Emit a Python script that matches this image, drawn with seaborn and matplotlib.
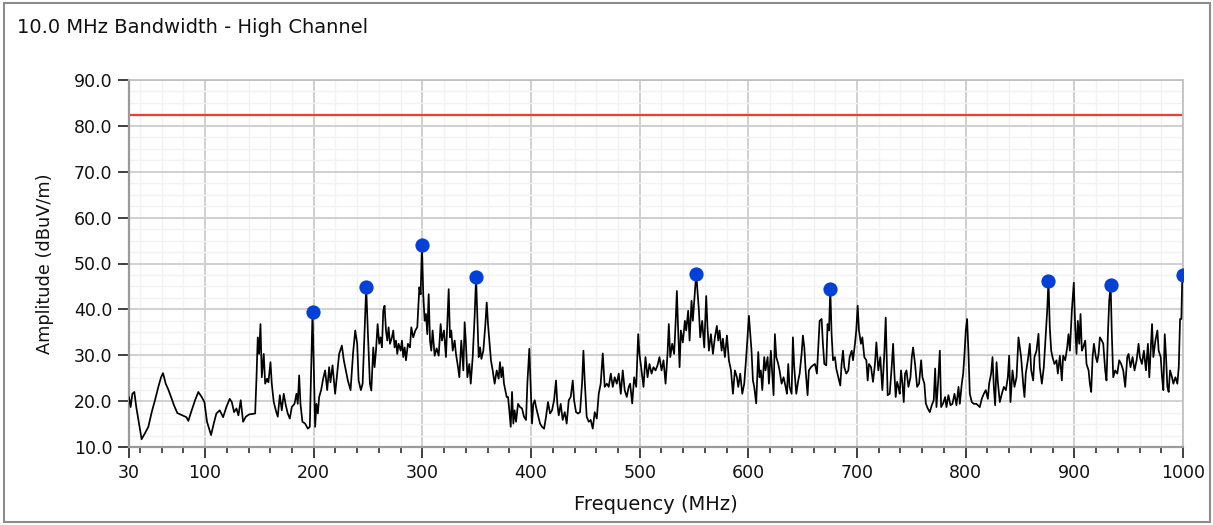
import matplotlib
matplotlib.use("Agg")
import matplotlib.pyplot as plt
import seaborn as sns
import pandas as pd
from matplotlib.ticker import FixedLocator
from matplotlib.patches import Rectangle

# ---------------- data ----------------
title_text = "10.0 MHz Bandwidth - High Channel"
x_label = "Frequency (MHz)"
y_label = "Amplitude (dBuV/m)"

x_ticks = [30, 100, 200, 300, 400, 500, 600, 700, 800, 900, 1000]
x_tick_labels = ["30", "100", "200", "300", "400", "500", "600", "700", "800", "900", "1000"]
y_ticks = [10, 20, 30, 40, 50, 60, 70, 80, 90]
y_tick_labels = ["10.0", "20.0", "30.0", "40.0", "50.0", "60.0", "70.0", "80.0", "90.0"]

limit_db = 82.4

freq_mhz = [
    30, 31.5, 33.1, 34.9, 36.7, 39.2, 41.6, 44.7, 47.8, 50.9,
    53.9, 57.0, 59.5, 61.3, 63.8, 66.2, 68.7, 71.4, 74.5, 79.1,
    82.8, 84.6, 87.7, 90.8, 93.8, 96.9, 99.4, 101.8, 105.5, 108.0,
    110.4, 113.5, 116.6, 119.6, 122.7, 124.6, 126.7, 128.9, 130.7, 132.8,
    135.0, 137.5, 140.5, 146.1, 147.3, 148.5, 149.7, 151.0, 152.2, 154.0,
    155.3, 157.1, 158.3, 160.2, 161.4, 163.2, 165.1, 166.9, 168.8, 170.6,
    172.4, 174.3, 176.1, 178.0, 179.8, 182.3, 184.1, 185.3, 186.6, 187.8,
    189.6, 192.1, 194.6, 196.4, 197.6, 198.9, 200.1, 201.3, 202.5, 203.8,
    205.0, 206.8, 208.7, 210.5, 212.4, 214.2, 215.4, 217.3, 219.7, 221.6,
    223.4, 225.9, 227.7, 229.6, 231.4, 233.9, 236.3, 238.2, 240.0, 241.3,
    243.4, 245.0, 246.8, 248.3, 249.9, 251.7, 253.0, 254.8, 256.0, 257.3,
    258.8, 260.3, 261.5, 262.8, 264.0, 265.2, 266.5, 267.7, 268.9, 270.2,
    272.0, 273.2, 274.4, 275.7, 276.9, 278.1, 280.0, 281.2, 282.4, 283.7,
    284.9, 286.7, 288.6, 289.8, 291.6, 293.5, 295.3, 297.2, 298.4, 299.6,
    300.8, 302.1, 303.3, 304.5, 305.8, 307.0, 308.2, 309.4, 311.3, 313.1,
    315.0, 316.8, 318.0, 319.9, 321.7, 323.0, 324.2, 325.4, 326.6, 327.9,
    329.7, 330.9, 332.8, 334.0, 335.8, 337.7, 338.9, 340.1, 341.4, 343.2,
    344.5, 346.3, 348.1, 349.4, 350.6, 351.8, 353.1, 354.3, 356.1, 358.0,
    359.2, 360.4, 363.1, 364.7, 366.5, 368.4, 370.2, 371.4, 372.7, 373.9,
    375.1, 376.3, 377.6, 378.8, 380.0, 381.3, 382.5, 383.7, 384.9, 386.2,
    388.0, 389.9, 391.7, 393.5, 395.4, 396.6, 398.4, 399.7, 400.9, 402.1,
    403.4, 404.6, 406.4, 408.3, 410.1, 412.0, 413.8, 415.6, 417.5, 419.3,
    421.2, 423.0, 424.2, 425.5, 427.3, 429.1, 431.0, 432.8, 434.7, 436.5,
    438.4, 439.6, 441.4, 443.3, 445.1, 447.0, 448.2, 449.4, 451.2, 453.1,
    454.9, 456.8, 458.6, 460.5, 462.3, 464.1, 466.0, 467.8, 469.7, 471.5,
    473.4, 475.2, 477.0, 478.9, 480.7, 482.6, 484.4, 486.2, 488.1, 489.9,
    491.2, 493.1, 494.9, 496.8, 498.6, 499.8, 501.7, 503.5, 505.3, 507.2,
    509.0, 510.9, 512.7, 514.6, 516.4, 518.2, 520.1, 521.9, 523.8, 525.6,
    526.8, 528.1, 529.9, 531.7, 533.0, 534.2, 535.4, 536.7, 537.9, 539.7,
    541.6, 542.8, 544.6, 545.9, 547.7, 548.9, 550.8, 552.0, 553.2, 554.5,
    555.7, 557.5, 559.4, 561.2, 562.4, 563.7, 565.5, 567.4, 569.2, 571.0,
    572.3, 573.5, 575.4, 576.6, 578.4, 580.3, 582.1, 584.0, 585.8, 587.6,
    589.5, 590.7, 592.5, 594.4, 596.2, 598.1, 600.5, 602.9, 604.2, 605.4,
    607.2, 609.1, 610.3, 611.5, 612.8, 614.6, 615.8, 617.7, 618.9, 620.7,
    622.0, 623.2, 624.4, 625.7, 627.5, 628.7, 630.6, 632.4, 634.3, 635.5,
    636.7, 637.9, 639.8, 641.0, 642.2, 644.1, 645.9, 647.2, 649.0, 650.2,
    651.5, 652.7, 654.5, 655.7, 657.6, 659.4, 661.3, 663.1, 664.3, 665.6,
    667.4, 668.6, 669.9, 671.7, 672.9, 674.2, 675.4, 676.6, 677.9, 679.7,
    680.9, 682.8, 684.6, 685.8, 687.1, 688.3, 690.1, 692.0, 693.2, 695.1,
    696.3, 698.1, 699.3, 700.6, 701.8, 703.6, 704.9, 706.7, 708.6, 709.8,
    711.0, 712.9, 714.7, 716.5, 717.8, 719.6, 721.4, 723.3, 725.1, 726.4,
    728.2, 730.1, 731.9, 733.2, 734.4, 735.6, 736.9, 738.1, 739.3, 740.5,
    741.8, 743.0, 744.2, 745.5, 747.3, 749.2, 750.4, 751.6, 753.4, 755.3,
    757.1, 759.0, 760.2, 762.0, 763.3, 765.1, 767.0, 768.8, 770.6, 771.9,
    773.1, 774.9, 776.2, 777.4, 779.2, 781.1, 782.3, 784.1, 786.0, 787.8,
    789.7, 791.5, 793.4, 794.6, 796.4, 797.7, 798.9, 800.1, 801.3, 802.6,
    803.8, 805.6, 807.5, 809.9, 813.0, 814.8, 816.7, 818.5, 820.4, 821.6,
    823.4, 824.7, 825.9, 827.1, 828.4, 829.6, 831.4, 833.3, 835.1, 837.0,
    838.8, 840.0, 841.2, 843.1, 844.9, 846.8, 848.6, 851.0, 852.9, 854.1,
    855.3, 857.2, 859.0, 860.3, 862.1, 863.3, 865.2, 867.0, 868.2, 870.1,
    871.9, 873.8, 875.0, 876.2, 877.4, 878.7, 879.9, 881.7, 883.6, 884.8,
    886.7, 888.5, 889.7, 891.6, 893.4, 894.6, 895.9, 897.7, 899.5, 900.8,
    902.0, 903.2, 904.5, 905.7, 906.9, 908.1, 910.0, 911.2, 913.1, 914.3,
    915.5, 916.8, 918.0, 919.8, 921.0, 922.3, 923.5, 925.3, 926.6, 928.4,
    929.6, 930.9, 932.1, 933.4, 934.5, 935.8, 937.6, 939.5, 941.3, 943.1,
    945.0, 946.8, 948.7, 949.9, 951.7, 953.6, 955.4, 957.3, 959.1, 960.3,
    962.2, 964.0, 965.9, 967.7, 969.0, 970.3, 971.5, 972.7, 974.6, 976.4,
    977.6, 979.5, 980.7, 981.9, 983.2, 984.4, 985.6, 986.8, 988.1, 989.9,
    991.1, 993.0, 994.8, 996.1, 997.3, 998.5, 999.4, 1000.0,
]

amp_dbuv = [
    20.9, 18.7, 21.6, 22.0, 18.7, 15.1, 11.7, 13.0, 14.4, 17.6,
    20.2, 23.1, 25.2, 26.1, 23.8, 22.5, 20.9, 19.1, 17.4, 16.9,
    16.5, 15.7, 18.0, 20.2, 22.0, 20.9, 19.8, 15.5, 12.6, 15.1,
    17.3, 18.0, 16.5, 18.7, 20.5, 19.8, 17.6, 18.4, 16.9, 20.2,
    15.5, 16.6, 17.1, 17.3, 24.9, 33.9, 30.3, 36.8, 25.2, 30.3,
    23.8, 24.9, 24.1, 28.5, 23.8, 19.8, 18.0, 16.6, 21.3, 18.0,
    21.6, 19.1, 17.3, 16.2, 18.7, 19.4, 21.6, 19.4, 25.6, 19.4,
    15.5, 15.1, 14.0, 14.4, 26.7, 39.5, 26.7, 14.4, 19.4, 17.3,
    20.9, 22.4, 24.9, 26.7, 22.4, 27.4, 24.1, 27.8, 21.6, 26.0,
    30.3, 32.1, 28.9, 26.7, 24.5, 22.4, 30.7, 35.4, 32.5, 24.5,
    22.4, 23.8, 35.4, 44.8, 34.6, 23.8, 22.3, 31.7, 27.4, 31.0,
    36.8, 32.5, 33.9, 31.7, 39.7, 40.8, 35.4, 33.2, 36.1, 32.5,
    33.9, 35.4, 31.7, 33.2, 30.3, 32.5, 31.0, 33.2, 29.6, 31.7,
    28.9, 32.5, 31.7, 36.1, 33.9, 35.4, 36.1, 44.8, 43.3, 54.2,
    43.3, 37.5, 39.0, 34.6, 43.3, 33.2, 31.0, 35.4, 29.9, 31.5,
    29.9, 36.8, 33.2, 35.4, 29.6, 37.5, 44.4, 33.9, 35.4, 31.0,
    33.2, 30.3, 27.4, 25.2, 33.2, 26.7, 37.2, 32.5, 25.2, 28.1,
    23.8, 29.6, 38.6, 47.0, 38.6, 29.6, 31.7, 29.2, 31.0, 36.8,
    41.5, 36.8, 28.9, 26.7, 23.8, 26.7, 24.9, 28.5, 25.2, 27.4,
    23.8, 22.4, 20.9, 20.9, 18.0, 14.4, 22.0, 15.1, 18.0, 15.5,
    19.4, 18.7, 18.4, 16.6, 15.9, 23.8, 31.4, 23.1, 15.1, 19.4,
    20.2, 18.7, 16.9, 15.1, 14.4, 14.0, 16.6, 19.8, 17.3, 18.0,
    20.2, 24.5, 19.4, 16.9, 19.4, 15.9, 17.6, 15.1, 20.2, 20.9,
    24.5, 20.2, 17.6, 17.3, 17.6, 24.1, 31.0, 24.5, 16.6, 15.5,
    15.9, 14.0, 17.6, 16.2, 21.6, 23.8, 30.4, 23.1, 23.8, 23.1,
    26.0, 23.1, 25.2, 23.8, 26.0, 21.6, 26.7, 22.4, 20.9, 23.1,
    23.8, 19.5, 25.2, 23.1, 34.6, 30.3, 26.7, 23.1, 29.6, 25.2,
    28.1, 26.0, 27.4, 26.7, 27.8, 29.6, 26.7, 28.9, 23.8, 30.3,
    36.8, 29.6, 32.5, 30.3, 36.8, 44.0, 35.4, 27.4, 35.4, 32.8,
    37.5, 35.4, 39.7, 33.2, 41.9, 37.5, 44.0, 47.8, 44.0, 39.7,
    33.9, 37.5, 31.7, 42.9, 36.1, 31.0, 34.6, 30.3, 33.9, 36.4,
    33.2, 35.4, 31.0, 33.6, 29.6, 34.3, 28.9, 26.7, 21.6, 26.7,
    25.2, 23.1, 26.0, 21.6, 23.8, 29.9, 38.6, 31.0, 24.5, 23.1,
    19.5, 30.7, 25.2, 26.7, 22.4, 29.6, 26.7, 29.6, 23.8, 31.0,
    26.0, 21.3, 34.6, 29.6, 28.1, 26.7, 23.8, 25.2, 23.1, 21.6,
    28.1, 23.1, 21.6, 33.9, 27.4, 21.6, 24.5, 26.0, 30.3, 34.3,
    31.7, 26.7, 21.3, 26.7, 27.4, 27.8, 28.1, 26.0, 31.7, 37.5,
    37.9, 32.5, 28.1, 27.8, 36.8, 35.4, 44.4, 34.6, 28.9, 29.6,
    27.1, 25.2, 23.4, 28.1, 31.0, 27.4, 26.0, 26.7, 29.6, 31.0,
    28.9, 32.5, 35.4, 40.8, 35.4, 32.5, 33.9, 29.6, 28.9, 24.5,
    28.1, 27.4, 24.2, 28.1, 32.8, 26.7, 29.6, 22.4, 30.3, 38.2,
    21.3, 21.6, 27.4, 32.5, 26.0, 20.9, 24.2, 23.1, 21.6, 26.7,
    23.8, 19.8, 26.0, 26.7, 23.1, 25.2, 29.6, 31.7, 28.1, 23.1,
    23.8, 28.9, 25.2, 23.8, 19.5, 18.4, 17.6, 19.1, 20.2, 27.1,
    18.7, 25.2, 31.0, 18.7, 19.5, 20.9, 18.7, 21.3, 19.1, 19.4,
    21.6, 19.1, 23.1, 19.4, 23.8, 26.0, 30.3, 35.4, 37.9, 30.3,
    21.6, 19.8, 19.4, 19.4, 18.7, 20.5, 21.6, 22.4, 20.5, 23.8,
    26.0, 29.6, 23.1, 19.1, 28.5, 24.2, 19.8, 21.6, 23.1, 22.4,
    25.2, 29.9, 19.8, 26.7, 23.1, 25.2, 33.9, 29.6, 23.8, 20.9,
    26.0, 28.9, 32.5, 26.7, 24.5, 29.6, 31.0, 34.7, 27.4, 23.8,
    27.4, 34.7, 39.7, 46.2, 36.1, 31.0, 29.6, 28.1, 28.9, 26.0,
    29.9, 24.5, 29.9, 28.9, 31.7, 34.6, 31.0, 39.7, 45.8, 36.1,
    30.3, 37.5, 32.5, 39.0, 31.0, 31.7, 33.2, 28.1, 26.7, 23.8,
    22.0, 29.6, 32.5, 29.6, 28.5, 30.3, 33.9, 33.2, 32.5, 26.7,
    24.5, 34.6, 41.9, 45.3, 34.6, 25.2, 26.7, 26.0, 28.9, 28.1,
    26.7, 23.1, 29.6, 30.3, 27.4, 29.6, 26.7, 28.9, 32.5, 29.6,
    28.1, 31.0, 26.7, 32.5, 25.2, 31.0, 36.8, 29.6, 33.2, 35.4,
    31.0, 29.6, 25.2, 22.4, 34.6, 29.6, 23.1, 22.0, 26.7, 25.2,
    23.8, 25.2, 23.8, 27.4, 37.9, 37.9, 48.0, 47.5,
]

peak_freq = [198.9, 248.3, 299.6, 349.4, 552.0, 675.4, 876.2, 933.4, 1000.0]
peak_amp = [39.5, 44.8, 54.0, 47.0, 47.8, 44.4, 46.2, 45.3, 47.5]

# ---------------- plot ----------------
sns.set_style("white")
plt.rcParams["font.family"] = ["DejaVu Sans"]

W, H = 1213, 525
fig = plt.figure(figsize=(W / 100, H / 100), dpi=100)
fig.patch.set_facecolor("white")

ax_l, ax_r, ax_t, ax_b = 129, 1183, 80, 447
ax = fig.add_axes([ax_l / W, 1 - ax_b / H, (ax_r - ax_l) / W, (ax_b - ax_t) / H])

trace = pd.DataFrame({"freq": freq_mhz, "amp": amp_dbuv})
sns.lineplot(data=trace, x="freq", y="amp", ax=ax, color="black", lw=1.25,
             estimator=None, sort=False, zorder=3)
ax.axhline(limit_db, color="#f0402c", lw=1.6, zorder=2)
peaks = pd.DataFrame({"freq": peak_freq, "amp": peak_amp})
sns.scatterplot(data=peaks, x="freq", y="amp", ax=ax, s=105, color="#0340d8",
                edgecolor="#0340d8", linewidth=0, zorder=5, legend=False)

ax.set_xlim(30, 1000)
ax.set_ylim(10, 90)

minor_x = [v for v in range(40, 1000, 20) if v % 100 != 0]
minor_y = [v / 2 for v in range(20, 181, 5) if v % 20 != 0]
ax.xaxis.set_major_locator(FixedLocator(x_ticks))
ax.xaxis.set_minor_locator(FixedLocator(minor_x))
ax.yaxis.set_major_locator(FixedLocator(y_ticks))
ax.yaxis.set_minor_locator(FixedLocator(minor_y))
ax.set_xticklabels(x_tick_labels)
ax.set_yticklabels(y_tick_labels)

ax.grid(which="major", color="#cdcdcd", lw=1.3)
ax.grid(which="minor", color="#f2f2f2", lw=1.0)
ax.set_axisbelow(True)

ax.tick_params(which="major", direction="out", length=8, width=1.3,
               color="#303030", labelsize=12.5, labelcolor="#111111",
               pad=4, left=True, bottom=True)
ax.tick_params(which="minor", axis="x", direction="out", length=4, width=1.2,
               color="#303030", bottom=True)
ax.tick_params(which="minor", axis="y", length=0, left=False)

for side, sp in ax.spines.items():
    sp.set_visible(True)
    if side in ("left", "bottom"):
        sp.set_color("#9a9a9a")
        sp.set_linewidth(1.6)
    else:
        sp.set_color("#bdbdbd")
        sp.set_linewidth(1.2)

ax.set_xlabel(x_label, fontsize=14, va="center", color="#111111")
ax.set_ylabel(y_label, fontsize=12.8, va="center", color="#111111")
ax.xaxis.set_label_coords(0.5, (ax_b - 505) / (ax_b - ax_t))
ax.yaxis.set_label_coords((45 - ax_l) / (ax_r - ax_l), 0.5)

fig.text(17 / W, 1 - 33 / H, title_text, fontsize=14, ha="left", va="baseline",
         color="#111111")

fig.patches.append(Rectangle((4 / W, 3 / H), (1210 - 4) / W, (522 - 3) / H,
                             transform=fig.transFigure, fill=False,
                             ec="#8c8c8c", lw=1.5))

fig.savefig("out.png", dpi=100, facecolor="white")
